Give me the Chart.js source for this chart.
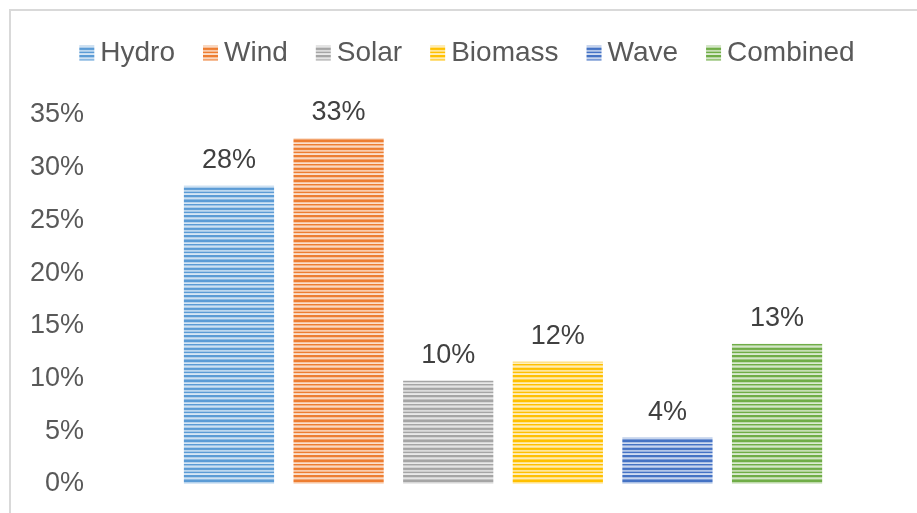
<!DOCTYPE html>
<html>
<head>
<meta charset="utf-8">
<script src="https://cdn.jsdelivr.net/npm/chart.js@4/dist/chart.umd.min.js"></script>
<style>
  html, body { margin: 0; padding: 0; background: #fff; overflow: hidden; }
  #frame { position: absolute; left: 9px; top: 9px; width: 1000px; height: 600px;
           border-left: 2px solid #d9d9d9; border-top: 2px solid #d9d9d9; }
  #wrap { position: absolute; left: 0; top: 0; width: 917px; height: 513px; }
</style>
</head>
<body>
<div id="frame"></div>
<div id="wrap"><canvas id="chart"></canvas></div>
<script>
const sources = ['Hydro', 'Wind', 'Solar', 'Biomass', 'Wave', 'Combined'];
const shares = [0.283, 0.328, 0.098, 0.116, 0.044, 0.133];
const colors = ['#5B9BD5', '#ED7D31', '#A5A5A5', '#FFC000', '#4472C4', '#70AD47'];
const yTicks = [0, 0.05, 0.10, 0.15, 0.20, 0.25, 0.30, 0.35];
const FONT = '"Liberation Sans", Arial, sans-serif';

// horizontal stripe fill, mixing the base colour toward white row by row
function stripes(hex) {
    const r = parseInt(hex.slice(1, 3), 16), g = parseInt(hex.slice(3, 5), 16), b = parseInt(hex.slice(5, 7), 16);
    const mix = [0, 0, 0.55, 0.75, 0, 0.4, 0.7, 0.5, 0, 0.05, 0.6, 0.45, 0, 0.65, 0.75, 0, 0, 0.5, 0.7, 0.3];
    const c = document.createElement('canvas');
    c.width = 4; c.height = mix.length;
    const x = c.getContext('2d');
    mix.forEach((m, i) => {
        x.fillStyle = `rgb(${Math.round(r + (255 - r) * m)},${Math.round(g + (255 - g) * m)},${Math.round(b + (255 - b) * m)})`;
        x.fillRect(0, i, 4, 1);
    });
    return x.createPattern(c, 'repeat');
}

const valueLabels = {
    id: 'valueLabels',
    afterDatasetsDraw(chart) {
        const ctx = chart.ctx;
        ctx.save();
        ctx.font = '27px ' + FONT;
        ctx.fillStyle = '#404040';
        ctx.textAlign = 'center';
        ctx.textBaseline = 'alphabetic';
        chart.data.datasets.forEach((ds, i) => {
            const bar = chart.getDatasetMeta(i).data[0];
            ctx.fillText(Math.round(ds.data[0] * 100) + '%', bar.x, bar.y - 18);
        });
        ctx.restore();
    }
};

// extra room under the legend, and square swatches set close to the text
const legendTweaks = {
    id: 'legendTweaks',
    beforeInit(chart) {
        const fit = chart.legend.fit;
        chart.legend.fit = function() {
            fit.bind(this)();
            this.height += 38;
        };
    },
    afterDraw(chart) {
        const lg = chart.legend;
        if (!lg || !lg.legendHitBoxes) return;
        const ctx = chart.ctx;
        ctx.save();
        lg.legendHitBoxes.forEach((hb, i) => {
            ctx.fillStyle = stripes(colors[i]);
            ctx.fillRect(hb.left, hb.top + hb.height / 2 - 7.5, 15, 15);
        });
        ctx.restore();
    }
};

new Chart(document.getElementById('chart'), {
    type: 'bar',
    data: {
        labels: [''],
        datasets: sources.map((s, i) => ({
            label: s,
            data: [shares[i]],
            backgroundColor: stripes(colors[i]),
            borderWidth: 0
        }))
    },
    options: {
        responsive: true,
        maintainAspectRatio: false,
        animation: false,
        devicePixelRatio: 1,
        categoryPercentage: 0.81,
        barPercentage: 0.823,
        layout: { padding: { left: 25, right: 8, top: 11, bottom: 29 } },
        plugins: {
            tooltip: { enabled: false },
            legend: {
                position: 'top',
                labels: {
                    boxWidth: 7,
                    boxHeight: 15,
                    padding: 28,
                    color: '#595959',
                    font: { size: 28, family: FONT },
                    generateLabels(chart) {
                        return chart.data.datasets.map((ds, i) => ({
                            text: ds.label,
                            fillStyle: 'rgba(0,0,0,0)',
                            strokeStyle: 'rgba(0,0,0,0)',
                            fontColor: '#595959',
                            lineWidth: 0,
                            datasetIndex: i
                        }));
                    }
                }
            }
        },
        scales: {
            x: { display: false },
            y: {
                min: 0,
                max: 0.35,
                afterBuildTicks(axis) { axis.ticks = yTicks.map(v => ({ value: v })); },
                grid: { display: false },
                border: { display: false },
                ticks: {
                    color: '#595959',
                    padding: 5,
                    font: { size: 27, family: FONT },
                    callback: v => Math.round(v * 100) + '%'
                }
            }
        }
    },
    plugins: [valueLabels, legendTweaks]
});
</script>
</body>
</html>
